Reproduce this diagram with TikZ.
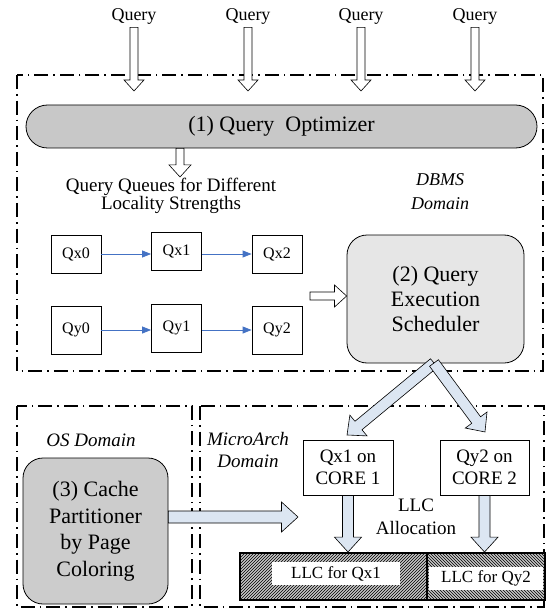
\documentclass[tikz,border=0pt]{standalone}
\usepackage{fontspec}
\setmainfont{Liberation Serif}
\usetikzlibrary{arrows.meta,calc,patterns}

\definecolor{optgray}{HTML}{C8C8C8}
\definecolor{schedgray}{HTML}{E6E6E6}
\definecolor{cachegray}{HTML}{CCCCCC}
\definecolor{paleblue}{HTML}{DCE6F2}
\definecolor{queueblue}{HTML}{4472C4}

\tikzset{
  arrow shaft/.store in=\shaftw, arrow head/.store in=\headw,
  domainbox/.style={line width=1.6pt, dash pattern=on 14pt off 5pt on 1.6pt off 5pt},
  blockarrow/.style={draw, fill=white, line width=0.6pt, arrow shaft=8, arrow head=20},
  widearrow/.style={blockarrow, fill=paleblue, arrow shaft=11, arrow head=27},
  qbox/.style={draw, line width=0.8pt, minimum width=50pt, font=\fontsize{16}{18}\selectfont},
  corebox/.style={draw, line width=0.9pt, minimum width=90pt, minimum height=55pt,
    align=center, font=\fontsize{19}{22}\selectfont},
  queuearrow/.style={draw=queueblue, line width=0.8pt, -{Triangle[length=9pt,width=7pt]}},
  domainlabel/.style={align=center, font=\fontsize{18}{24}\selectfont\itshape},
  llclabel/.style={fill=white, inner sep=0pt, minimum height=23pt, font=\fontsize{17}{19}\selectfont}
}

% block arrow between two points
\newcommand{\hollowarrow}[3][]{%
  \path[blockarrow, #1] let \p1=(#2), \p2=(#3), \n1={atan2(\y2-\y1,\x2-\x1)},
    \n2={veclen(\x2-\x1,\y2-\y1)}, \n3={0.55*\headw} in
    [shift={(\p1)}, rotate=\n1] (0,-\shaftw/2) -- (\n2-\n3,-\shaftw/2) -- (\n2-\n3,-\headw/2)
    -- (\n2,0) -- (\n2-\n3,\headw/2) -- (\n2-\n3,\shaftw/2) -- (0,\shaftw/2) -- cycle;}

\begin{document}
\begin{tikzpicture}[x=1pt, y=-1pt]
\useasboundingbox (0,0) rectangle (547,612);

% domains
\draw[domainbox] (17,75) rectangle (543,371);
\draw[domainbox] (17,406) rectangle (192,607);
\draw[domainbox] (200,406) rectangle (544,607);

% incoming queries
\foreach \qx [count=\i] in {134,248,361,475} {
  \node[font=\fontsize{18}{20}\selectfont] (query\i) at (\qx,16) {Query};
  \coordinate (qin\i) at (\qx,91);
  \hollowarrow{query\i.south}{qin\i}
}

% optimizer
\node[draw, fill=optgray, line width=0.8pt, rounded corners=21.5pt, minimum width=511pt,
  minimum height=43pt, font=\fontsize{22}{24}\selectfont] (optimizer) at (281.5,126.5) {(1) Query~~Optimizer};
\coordinate (queues top) at (180,177);
\hollowarrow[arrow head=22]{optimizer.south -| queues top}{queues top}

\node[align=center, font=\fontsize{19}{16}\selectfont] (queuetitle) at (171,196)
  {Query Queues for Different\\Locality Strengths};
\node[domainlabel] (dbms) at (440,192) {DBMS\\Domain};

% query queues
\node[qbox, minimum height=38pt] (qx0) at (76,254) {Qx0};
\node[qbox, minimum height=38pt] (qx1) at (176.5,251) {Qx1};
\node[qbox, minimum height=38pt] (qx2) at (277,254) {Qx2};
\node[qbox, minimum height=48pt] (qy0) at (76,330) {Qy0};
\node[qbox, minimum height=48pt] (qy1) at (176.5,328) {Qy1};
\node[qbox, minimum height=48pt] (qy2) at (277,330) {Qy2};
\draw[queuearrow] (qx0.east) -- (qx0.east -| qx1.west);
\draw[queuearrow] (qx0.east -| qx1.east) -- (qx0.east -| qx2.west);
\draw[queuearrow] (qy0.east) -- (qy0.east -| qy1.west);
\draw[queuearrow] (qy0.east -| qy1.east) -- (qy0.east -| qy2.west);

% scheduler
\node[draw, fill=schedgray, line width=0.8pt, rounded corners=20pt, minimum width=177pt,
  minimum height=128pt, align=center, font=\fontsize{22}{25}\selectfont] (scheduler) at (435.5,299)
  {(2) Query\\Execution\\Scheduler};
\coordinate (sched in) at (310,296);
\hollowarrow[arrow head=22]{sched in}{sched in -| scheduler.west}

% cores
\node[corebox] (core1) at (348,467.5) {Qx1 on\\CORE 1};
\node[corebox, minimum width=89pt] (core2) at (484.5,467.5) {Qy2 on\\CORE 2};
\coordinate (split) at (434,363);
\coordinate (core1 tip) at (347,435);
\coordinate (core2 tip) at (485,432);
\hollowarrow[widearrow]{split}{core1 tip}
\hollowarrow[widearrow]{split}{core2 tip}

\node[domainlabel, font=\fontsize{19}{21}\selectfont\itshape] (osdomain) at (91,440) {OS Domain};
\node[domainlabel, font=\fontsize{19}{22}\selectfont\itshape] (archdomain) at (248,450) {MicroArch\\Domain};

% cache partitioner
\node[draw, fill=cachegray, line width=0.8pt, rounded corners=20pt, minimum width=145pt,
  minimum height=146pt, align=center, font=\fontsize{22}{26.5}\selectfont] (cache) at (95.5,531)
  {(3) Cache\\Partitioner\\by Page\\Coloring};
\coordinate (alloc tip) at (298,517);
\hollowarrow[widearrow, arrow shaft=12, arrow head=30]{cache.east |- alloc tip}{alloc tip}

\node[align=center, font=\fontsize{19}{23}\selectfont] (llcalloc) at (416,517) {LLC\\Allocation};

% last level cache
\fill[gray!45] (240,553) rectangle (545,600);
\draw[pattern=north east lines] (240,553) rectangle (427,600);
\draw[pattern=north west lines] (427,553) rectangle (545,600);
\draw[line width=2.5pt] (240,553) rectangle (545,600) (427,553) -- (427,600);
\node[llclabel, minimum width=128pt] (llcx) at (336,573.5) {LLC for Qx1};
\node[llclabel, minimum width=114pt] (llcy) at (486,578.5) {LLC for Qy2};
\coordinate (llcx top) at (core1 |- 0,552);
\coordinate (llcy top) at (core2 |- 0,552);
\hollowarrow[widearrow]{core1.south}{llcx top}
\hollowarrow[widearrow]{core2.south}{llcy top}

\end{tikzpicture}
\end{document}
